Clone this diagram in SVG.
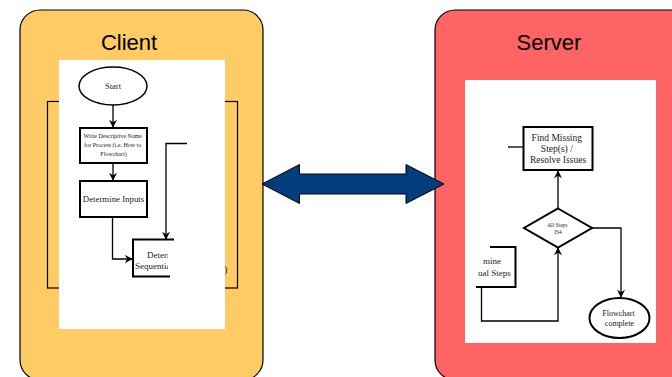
<svg xmlns="http://www.w3.org/2000/svg" width="672" height="377" viewBox="0 0 672 377">
  <style>
    .title { font-family: "Liberation Sans", Arial, sans-serif; font-size: 22px; fill: #000; text-anchor: middle; }
    .fc { font-family: "Liberation Serif", "Times New Roman", serif; fill: #222; }
    .thick { fill: #fff; stroke: #000; stroke-width: 2; }
    .wire { fill: none; stroke: #000; stroke-width: 1.3; }
  </style>
  <defs>
    <marker id="tip" viewBox="0 0 10 10" refX="9" refY="5" markerWidth="8" markerHeight="8" orient="auto" markerUnits="userSpaceOnUse">
      <path d="M0,0 L10,5 L0,10 L3,5 Z" fill="#000"/>
    </marker>
    <clipPath id="clipSeq"><rect x="100" y="230" width="74" height="60"/></clipPath>
    <clipPath id="clipSeqText"><rect x="100" y="230" width="68" height="60"/></clipPath>
    <clipPath id="clipSeq2"><rect x="476" y="240" width="60" height="60"/></clipPath>
  </defs>

  <rect width="672" height="377" fill="#fff"/>

  <!-- Client panel -->
  <g id="client">
    <rect x="20" y="10" width="243" height="370" rx="20" ry="20" fill="#fecb65" stroke="#000" stroke-width="1.2"/>
    <text class="title" x="129" y="50">Client</text>
    <rect x="47.5" y="101.5" width="190" height="186.5" fill="none" stroke="#000" stroke-width="1.2"/>
    <rect x="59" y="60" width="166" height="269" fill="#fff"/>
    <text class="fc" x="224" y="273" font-size="10" fill="#555">)</text>
  </g>

  <!-- Client flowchart -->
  <g id="c-start">
    <ellipse cx="113" cy="86" rx="34" ry="19" fill="#fff" stroke="#000" stroke-width="1.5"/>
    <text class="fc" x="113" y="89" font-size="8.5" text-anchor="middle">Start</text>
  </g>
  <g id="c-name">
    <rect class="thick" x="80" y="128" width="67" height="35"/>
    <text class="fc" font-size="6" text-anchor="middle">
      <tspan x="113.5" y="138">Write Descriptive Name</tspan>
      <tspan x="113.5" y="147">for Process (i.e. How to</tspan>
      <tspan x="113.5" y="156">Flowchart)</tspan>
    </text>
  </g>
  <g id="c-inputs">
    <rect class="thick" x="80" y="181" width="67" height="36"/>
    <text class="fc" x="113.5" y="202" font-size="8.8" text-anchor="middle">Determine Inputs</text>
  </g>
  <g id="c-sequence">
    <path d="M174,239.5 H133 V276.5 H170" fill="none" stroke="#000" stroke-width="2" clip-path="url(#clipSeq)"/>
    <g clip-path="url(#clipSeqText)">
      <text class="fc" x="147" y="258" font-size="9">Determine</text>
      <text class="fc" x="135" y="269" font-size="9">Sequential Steps</text>
    </g>
  </g>

  <!-- Server panel -->
  <g id="server">
    <rect x="435" y="10" width="260" height="370" rx="20" ry="20" fill="#fe6464" stroke="#000" stroke-width="1.2"/>
    <text class="title" x="549" y="50">Server</text>
    <rect x="465" y="80" width="191" height="263" fill="#fff"/>
  </g>

  <!-- Server flowchart -->
  <g id="s-find">
    <rect class="thick" x="523.5" y="127" width="69" height="43"/>
    <text class="fc" font-size="9.5" text-anchor="middle">
      <tspan x="558" y="141">Find Missing</tspan>
      <tspan x="558" y="152">Step(s) /</tspan>
      <tspan x="558" y="163">Resolve Issues</tspan>
    </text>
  </g>
  <g id="s-check">
    <polygon points="558,208.5 592,228 558,247.5 524,228" fill="#fff" stroke="#000" stroke-width="2"/>
    <text class="fc" font-size="5.5" text-anchor="middle">
      <tspan x="558" y="227">All Steps</tspan>
      <tspan x="558" y="234">IS4</tspan>
    </text>
  </g>
  <g id="s-done">
    <ellipse cx="619.5" cy="318" rx="30" ry="20" fill="#fff" stroke="#000" stroke-width="2"/>
    <text class="fc" font-size="8" text-anchor="middle">
      <tspan x="619.5" y="316">Flowchart</tspan>
      <tspan x="619.5" y="326">complete</tspan>
    </text>
  </g>
  <g id="s-sequence" clip-path="url(#clipSeq2)">
    <path d="M490,247 H515.5 V287 H476" fill="none" stroke="#000" stroke-width="2"/>
    <text class="fc" x="483" y="264" font-size="9">mine</text>
    <text class="fc" x="478" y="276" font-size="9">ual Steps</text>
  </g>

  <!-- Connectors -->
  <g id="connectors">
    <path class="wire" d="M113,105 V127" marker-end="url(#tip)"/>
    <path class="wire" d="M113,163 V180" marker-end="url(#tip)"/>
    <path class="wire" d="M112.5,217 V259 H132" marker-end="url(#tip)"/>
    <path class="wire" d="M187,143.5 H166 V239" marker-end="url(#tip)"/>
    <path class="wire" d="M508,147 H523.5"/>
    <path class="wire" d="M558,208.5 V171" marker-end="url(#tip)"/>
    <path class="wire" d="M592,228 H621 V297" marker-end="url(#tip)"/>
    <path class="wire" d="M481.5,287 V321 H558 V248" marker-end="url(#tip)"/>
    <!-- client/server exchange -->
    <polygon points="262,184 299.5,164.5 299.5,174 406,174 406,164.5 444,184 406,203.5 406,194 299.5,194 299.5,203.5" fill="#023e7d" stroke="#000" stroke-width="1"/>
  </g>
</svg>
